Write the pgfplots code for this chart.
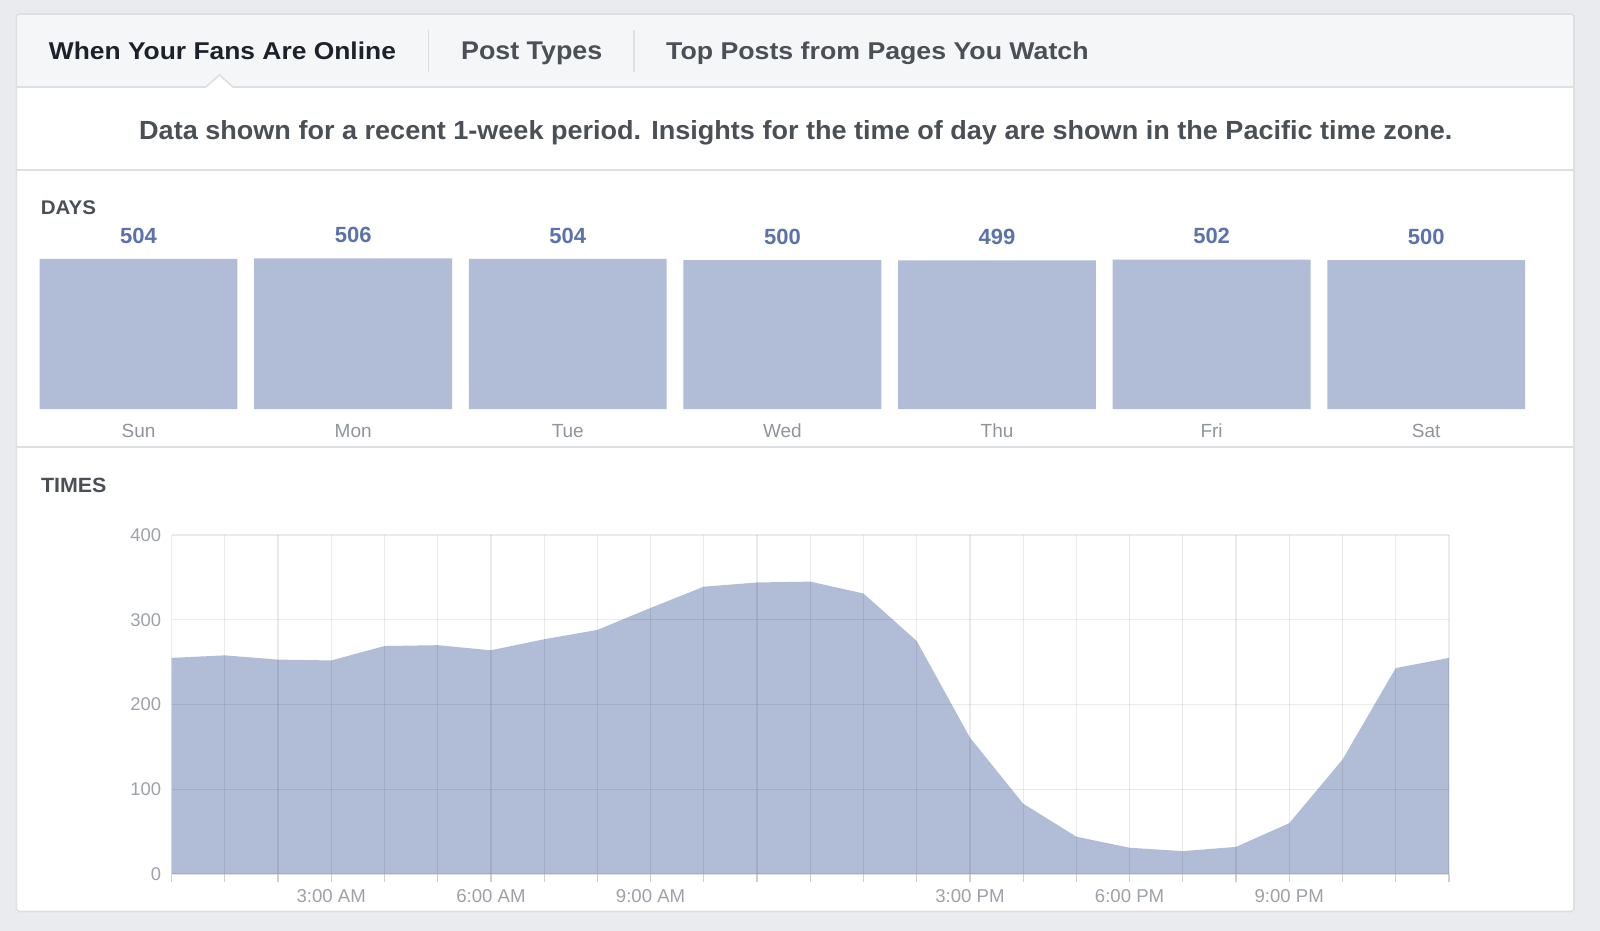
\documentclass[border=0pt]{standalone}
\usepackage{pgfplots}
\pgfplotsset{compat=1.18}
\usepackage{graphicx}
\usepackage{fontspec}
\setmainfont{Liberation Sans}
\definecolor{pagebg}{HTML}{E9EBEE}
\definecolor{cardborder}{HTML}{DDDFE2}
\definecolor{headbg}{HTML}{F5F6F7}
\definecolor{darktxt}{HTML}{1D2129}
\definecolor{midtxt}{HTML}{4B4F56}
\definecolor{barfill}{HTML}{B1BDD7}
\definecolor{valblue}{HTML}{5B72AD}
\definecolor{daygray}{HTML}{90949C}
\definecolor{tickgray}{HTML}{CCD0D5}
\definecolor{ticktxt}{HTML}{9DA1A8}
\begin{document}
\begin{tikzpicture}[x=0.5pt,y=-0.5pt]
\useasboundingbox (0,0) rectangle (1600,931);
\fill[pagebg] (0,0) rectangle (1600,931);
\fill[headbg, rounded corners=1.5pt] (16.3,14) rectangle (1574,100);
\fill[white] (16.3,87.3) rectangle (1574,911.5);
\draw[cardborder, line width=0.8pt, rounded corners=1.5pt] (16.3,14) rectangle (1574,911.5);
\draw[cardborder, line width=0.8pt] (16.3,87.3) -- (1574,87.3);
\draw[cardborder, line width=0.8pt] (16.3,170) -- (1574,170);
\draw[cardborder, line width=0.8pt] (16.3,446.7) -- (1574,446.7);
\draw[cardborder, line width=0.8pt] (428.6,30) -- (428.6,71.7);
\draw[cardborder, line width=0.8pt] (634.2,30) -- (634.2,71.7);
% notch
\fill[white] (205.5,88.5) -- (219.5,75) -- (233.5,88.5) -- cycle;
\draw[cardborder, line width=0.8pt] (205.5,87.3) -- (219.5,75) -- (233.5,87.3);
% tabs
\node[anchor=base west, inner sep=0pt, text=darktxt] at (48.5,60) {\resizebox{173.5pt}{8.8pt}{\bfseries When Your Fans Are Online}};
\node[anchor=base west, inner sep=0pt, text=midtxt] at (460.7,60) {\resizebox{70.6pt}{8.8pt}{\bfseries Post Types}};
\node[anchor=base west, inner sep=0pt, text=midtxt] at (665.8,60) {\resizebox{211.2pt}{8.8pt}{\bfseries Top Posts from Pages You Watch}};
\node[anchor=base west, inner sep=0pt, text=midtxt] at (138.8,139.3) {\resizebox{656.6pt}{9.5pt}{\bfseries Data shown for a recent 1-week period. Insights for the time of day are shown in the Pacific time zone.}};
\node[anchor=base west, inner sep=0pt, text=midtxt] at (40.4,214.3) {\resizebox{27.6pt}{6.9pt}{\bfseries DAYS}};
\node[anchor=base west, inner sep=0pt, text=midtxt] at (40.6,492.3) {\resizebox{32.7pt}{7.2pt}{\bfseries TIMES}};
\coordinate (BA) at (31.25,409);
\coordinate (TA) at (171.6,874);
\begin{axis}[at={(BA)}, anchor=south west, scale only axis,
  width=751.15pt, height=89.3pt,
  xmin=-0.5, xmax=6.5, ymin=0, ymax=600,
  axis line style={draw=none}, ytick=\empty,
  xtick={0,...,6}, xticklabels={Sun,Mon,Tue,Wed,Thu,Fri,Sat},
  xtick style={draw=none},
  xticklabel style={anchor=base, inner sep=0pt, yshift=-10.05pt, font=\fontsize{9.5}{11}\selectfont, text=daygray},
  ybar, bar width=0.922,
  nodes near coords,
  nodes near coords style={anchor=base, inner sep=0pt, yshift=7.85pt, font=\bfseries\fontsize{11}{13}\selectfont, text=valblue},
  /pgf/number format/assume math mode=true, clip=false]
\addplot[fill=barfill, draw=none] coordinates {(0,504) (1,506) (2,504) (3,500) (4,499) (5,502) (6,500)};
\end{axis}
\begin{axis}[at={(TA)}, anchor=south west, scale only axis,
  width=638.65pt, height=169.5pt,
  xmin=0, xmax=24, ymin=0, ymax=400,
  axis line style={draw=none}, axis on top,
  grid=major, grid style={draw=black, draw opacity=0.08, line width=0.6pt},
  xtick={0,...,24},
  xticklabels={,,,3:00 AM,,,6:00 AM,,,9:00 AM,,,,,,3:00 PM,,,6:00 PM,,,9:00 PM,,,},
  ytick={0,100,200,300,400},
  xtick pos=bottom, ytick pos=left,
  tick align=outside, major tick length=4pt,
  xtick style={draw=tickgray, line width=0.6pt},
  ytick style={draw=none},
  xticklabel style={anchor=base, inner sep=0pt, yshift=-10.05pt, font=\fontsize{9.3}{11}\selectfont, text=ticktxt},
  yticklabel style={anchor=east, inner sep=0pt, xshift=-1.1pt, font=\fontsize{9.2}{11}\selectfont, text=ticktxt},
  /pgf/number format/assume math mode=true]
\addplot[fill=barfill, draw=none] coordinates {
(0,255) (1,258) (2,253) (3,252) (4,269) (5,270) (6,264) (7,277) (8,288)
(9,314) (10,339) (11,344) (12,345) (13,331) (14,275) (15,161) (16,83)
(17,44) (18,31) (19,27) (20,32) (21,60) (22,135) (23,243) (24,255)} \closedcycle;
\end{axis}
\end{tikzpicture}
\end{document}
